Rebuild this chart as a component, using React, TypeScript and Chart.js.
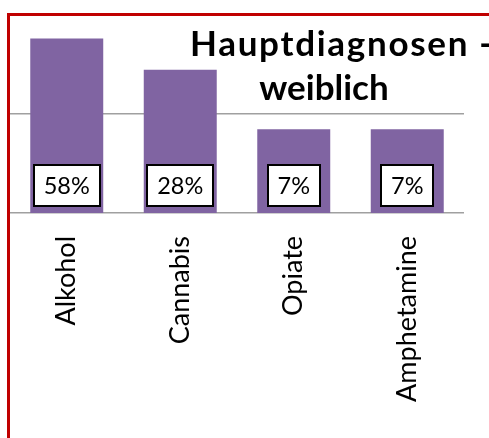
import React, { useEffect, useRef } from "react";
import { Chart, registerables } from "chart.js";

Chart.register(...registerables);

const categories = ["Alkohol", "Cannabis", "Opiate", "Amphetamine"];
const values = [58, 28, 7, 7];
const valueLabels = ["58%", "28%", "7%", "7%"];
const yTicks = [1, 10, 100];
const titleLines = ["Hauptdiagnosen -", "weiblich"];

const FONT = "Lato, 'Open Sans', sans-serif";

const boxLabelPlugin = {
  id: "boxLabels",
  afterDatasetsDraw(chart: any) {
    const ctx = chart.ctx;
    const meta = chart.getDatasetMeta(0);
    ctx.save();
    ctx.font = `23.5px ${FONT}`;
    meta.data.forEach((bar: any, i: number) => {
      const text = valueLabels[i];
      const w = Math.round(ctx.measureText(text).width + 20);
      const h = 41;
      const bottom = bar.base - 7;
      const top = bottom - h;
      const left = Math.round(bar.x - w / 2);
      ctx.fillStyle = "#ffffff";
      ctx.fillRect(left, top, w, h);
      ctx.lineWidth = 2;
      ctx.strokeStyle = "#000000";
      ctx.strokeRect(left, top, w, h);
      ctx.fillStyle = "#000000";
      ctx.textAlign = "center";
      ctx.textBaseline = "middle";
      ctx.fillText(text, bar.x, top + h / 2 + 1);
    });
    ctx.restore();
  },
};

const overlayPlugin = {
  id: "overlay",
  afterDraw(chart: any) {
    const ctx = chart.ctx;
    ctx.save();
    ctx.font = `bold 35px ${FONT}`;
    ctx.fillStyle = "#000000";
    ctx.textBaseline = "alphabetic";
    ctx.textAlign = "left";
    (ctx as any).letterSpacing = "1.7px";
    ctx.fillText(titleLines[0], 190, 56);
    (ctx as any).letterSpacing = "0px";
    ctx.textAlign = "center";
    ctx.fillText(titleLines[1], 324, 100);
    // frame
    ctx.strokeStyle = "#C00000";
    ctx.lineWidth = 3;
    ctx.beginPath();
    ctx.moveTo(8.5, 438);
    ctx.lineTo(8.5, 14.5);
    ctx.lineTo(489, 14.5);
    ctx.stroke();
    ctx.restore();
  },
};

export default function App() {
  const ref = useRef<HTMLCanvasElement | null>(null);
  useEffect(() => {
    if (!ref.current) return;
    const chart = new Chart(ref.current, {
      type: "bar",
      data: {
        labels: categories,
        datasets: [
          {
            data: values,
            backgroundColor: "#8064A2",
            borderWidth: 0,
            categoryPercentage: 1,
            barPercentage: 0.643,
          },
        ],
      },
      options: {
        animation: false,
        responsive: false,
        maintainAspectRatio: false,
        layout: { padding: { left: 10, right: 25, top: 15, bottom: 0 } },
        plugins: {
          legend: { display: false },
          title: { display: false },
          tooltip: { enabled: false },
        },
        scales: {
          x: {
            grid: { display: false },
            border: { display: false },
            ticks: {
              minRotation: 90,
              maxRotation: 90,
              padding: 15,
              color: "#000000",
              font: { family: FONT, size: 27 },
            },
            afterFit: (s: any) => {
              s.height = 225;
            },
          },
          y: {
            type: "logarithmic",
            min: 1,
            max: 100,
            afterBuildTicks: (s: any) => {
              s.ticks = yTicks.map((v) => ({ value: v }));
            },
            afterFit: (s: any) => {
              s.width = 0;
            },
            ticks: { display: false },
            border: { display: false },
            grid: {
              drawTicks: false,
              color: "#A0A0A0",
              lineWidth: 1.5,
            },
          },
        },
      },
      plugins: [boxLabelPlugin, overlayPlugin],
    });
    return () => chart.destroy();
  }, []);
  return (
    <div style={{ position: "fixed", left: 0, top: 0, width: 489, height: 438, background: "#fff" }}>
      <canvas ref={ref} width={489} height={438} style={{ width: 489, height: 438 }} />
    </div>
  );
}
